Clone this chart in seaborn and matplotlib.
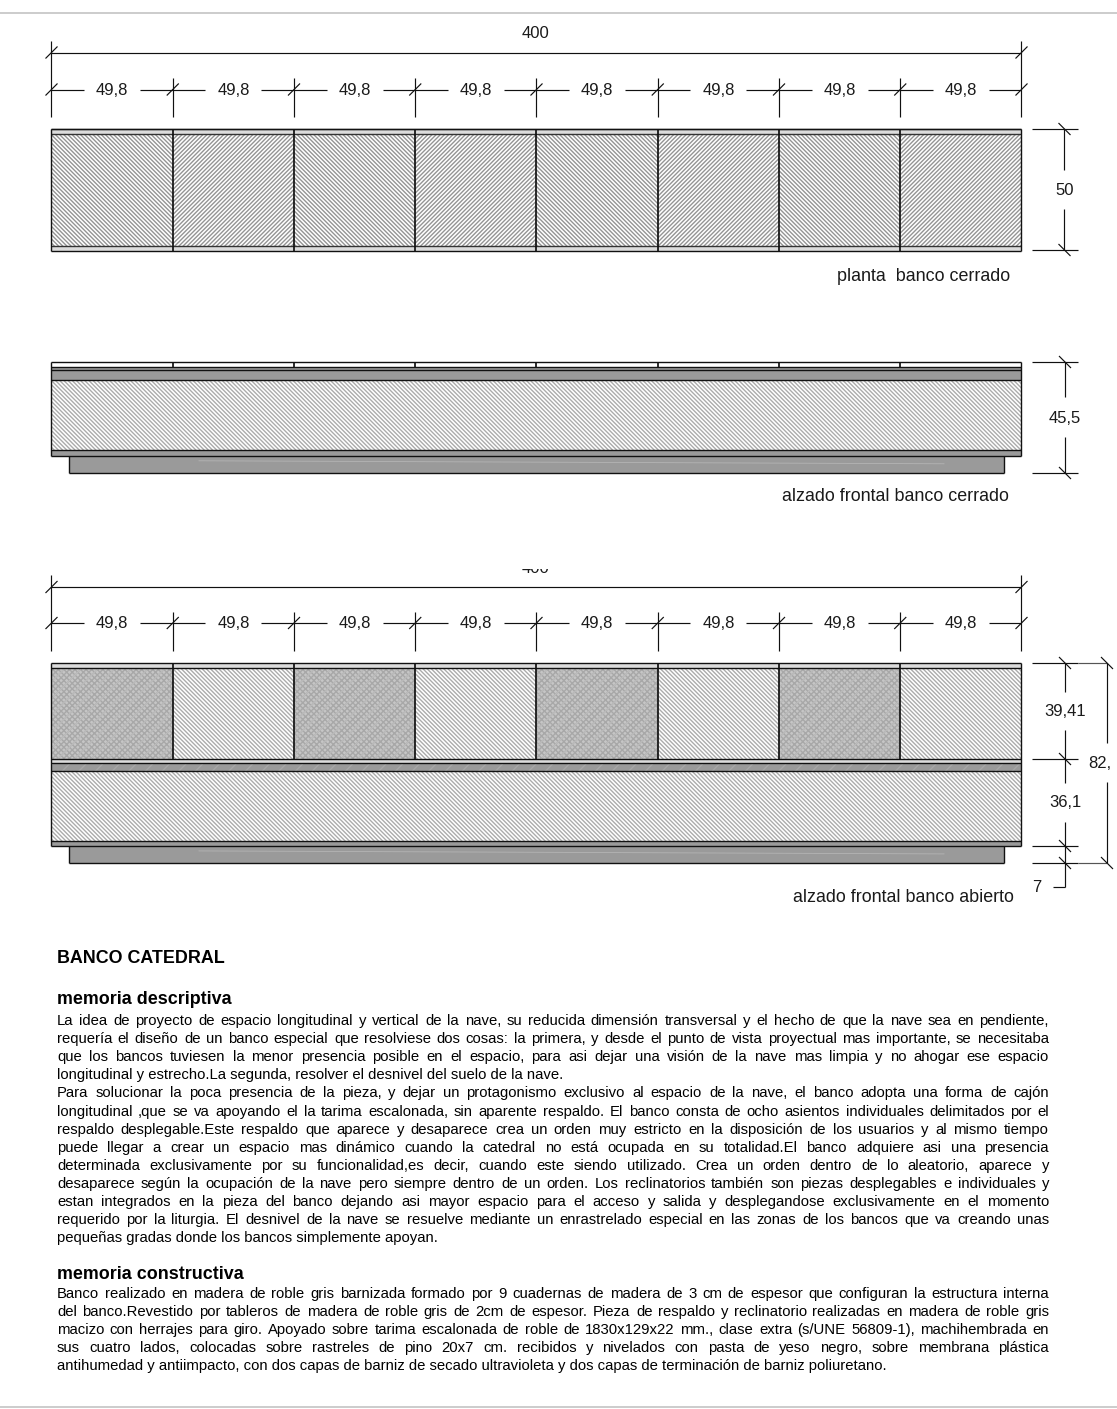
"""Banco catedral: plan, two elevations and the project notes, drawn to scale."""

import matplotlib
matplotlib.use('Agg')
import matplotlib.pyplot as plt
from matplotlib.patches import Rectangle
import numpy as np
import seaborn as sns

# ---- drawing dimensions, all in cm as written on the sheet
seat_widths = [49.8, 49.8, 49.8, 49.8, 49.8, 49.8, 49.8, 49.8]
seat_labels = ['49,8', '49,8', '49,8', '49,8', '49,8', '49,8', '49,8', '49,8']
total_label = '400'
plinth_inset = 7.0

plan_kinds = ['strip', 'seat', 'strip']
plan_depths = [2.0, 46.0, 2.0]
closed_kinds = ['blank', 'band', 'band', 'body', 'band', 'plinth']
closed_depths = [2.2, 1.2, 4.0, 28.7, 2.4, 7.0]
open_kinds = ['strip', 'seat', 'strip', 'streaked', 'body', 'band', 'plinth']
open_depths = [2.0, 37.41, 1.6, 3.3, 28.7, 2.1, 7.0]

# ---- text
title = 'BANCO CATEDRAL'
heading_1 = 'memoria descriptiva'
heading_2 = 'memoria constructiva'
body_1 = [
    'La idea de proyecto de espacio longitudinal y vertical de la nave, su reducida dimensión transversal y el hecho de que la nave sea en pendiente,',
    'requería el diseño de un banco especial que resolviese dos cosas: la primera, y desde el punto de vista proyectual mas importante, se necesitaba',
    'que los bancos tuviesen la menor presencia posible en el espacio, para asi dejar una visión de la nave mas limpia y no ahogar ese  espacio',
    'longitudinal y estrecho.La segunda, resolver el desnivel del suelo de la nave.',
    'Para solucionar la poca presencia de la pieza, y dejar un protagonismo exclusivo al espacio de la nave, el banco adopta una forma de cajón',
    'longitudinal ,que se va apoyando el la tarima escalonada, sin aparente respaldo. El banco consta de ocho asientos individuales delimitados por el',
    'respaldo desplegable.Este respaldo que aparece y desaparece crea un orden muy estricto en la disposición de los usuarios y al mismo tiempo',
    'puede llegar a crear un espacio mas dinámico cuando la catedral no está ocupada en su totalidad.El banco adquiere asi una presencia',
    'determinada exclusivamente por su funcionalidad,es decir, cuando este siendo utilizado. Crea un orden dentro de lo aleatorio, aparece y',
    'desaparece según la ocupación de la nave pero siempre dentro de un orden. Los reclinatorios también son piezas desplegables e individuales y',
    'estan integrados en la pieza del banco dejando asi mayor espacio para el acceso y salida y desplegandose exclusivamente en el momento',
    'requerido por la liturgia. El desnivel de la nave se resuelve mediante un enrastrelado especial en las zonas de los bancos que va creando unas',
    'pequeñas gradas donde los bancos simplemente apoyan.',
]
body_1_ragged = [3, 12]
body_2 = [
    'Banco realizado en madera de roble gris barnizada formado por 9 cuadernas de madera de 3 cm de espesor que configuran la estructura interna',
    'del banco.Revestido por tableros de madera de roble gris de 2cm de espesor. Pieza de respaldo y reclinatorio realizadas en madera de roble gris',
    'macizo con herrajes para giro. Apoyado sobre tarima escalonada de roble de 1830x129x22 mm., clase extra (s/UNE 56809-1), machihembrada en',
    'sus cuatro lados, colocadas sobre rastreles de pino 20x7 cm. recibidos y nivelados con pasta de yeso negro, sobre membrana plástica',
    'antihumedad y antiimpacto, con dos capas de barniz de secado ultravioleta y dos capas de terminación de barniz poliuretano.',
]
body_2_ragged = [4]

# ---- sheet layout
W, H = 1117, 1409
SCALE = 970 / sum(seat_widths)   # pixels per cm
X0 = 51.5                        # left edge of the bench on the sheet
FONT = ['Liberation Sans', 'DejaVu Sans']
INK = '#111111'

LAYER_STYLE = {
    'strip': dict(color='#dcdcdc', edgecolor='#dcdcdc'),
    'blank': dict(color='#ffffff', edgecolor='#ffffff'),
    'band': dict(color='#9a9a9a', edgecolor='#9a9a9a'),
    'streaked': dict(color='#9a9a9a', edgecolor='#a8a8a8', hatch='//'),
    'plinth': dict(color='#9a9a9a', edgecolor='#9a9a9a'),
    'body': dict(color='#ffffff', edgecolor='#ababab', hatch='\\' * 8),
}
SEAT_BACK = dict(color='#ffffff', edgecolor='#949494')
SEAT_DARK = dict(color='#c6c6c6', edgecolor='#a8a8a8', hatch='x' * 6)
SEAT_STREAK = dict(color='#bcbcbc', fill=False, hatch='//')
SEAT_LIGHT = dict(color='#ffffff', edgecolor='#ababab', hatch='\\' * 8)

sns.set_theme(style='white', rc={'hatch.linewidth': 1.0})
plt.rcParams['font.family'] = FONT

fig = plt.figure(figsize=(W / 100, H / 100), dpi=100, facecolor='white')
ax = fig.add_axes([0, 0, 1, 1])


def cx(px):
    return (px - X0) / SCALE


def cy(px):
    return px / SCALE


def seg(x0, y0, x1, y1, lw=0.85, color=INK):
    # every line of the drawing goes through here, args in sheet pixels
    ax.plot([cx(x0), cx(x1)], [cy(y0), cy(y1)], color=color, lw=lw,
            solid_capstyle='butt', zorder=5)


def label(x, y, text, ha='center', size=12.0, color='#1a1a1a', **kw):
    return ax.text(cx(x), cy(y), text, ha=ha, va='baseline', fontsize=size,
                   color=color, zorder=6, **kw)


def bar(x_left, width, top, depth, style):
    sns.barplot(x=[x_left + width / 2], y=[depth], bottom=top, width=width,
                native_scale=True, errorbar=None, saturation=1, linewidth=0,
                ax=ax, **style)


def draw_view(top_px, kinds, depths, seat_styles):
    edges = np.concatenate([[0], np.cumsum(seat_widths)])
    total = edges[-1]
    y = cy(top_px)
    right_px = X0 + total * SCALE
    layer_tops = []
    for kind, depth in zip(kinds, depths):
        layer_tops.append(y)
        if kind == 'seat':
            for i, w in enumerate(seat_widths):
                bar(edges[i], w, y, depth, seat_styles[i % 2])
                if seat_styles[i % 2] is SEAT_DARK:
                    bar(edges[i], w, y, depth, SEAT_STREAK)
        elif kind == 'plinth':
            bar(plinth_inset, total - 2 * plinth_inset, y, depth, LAYER_STYLE[kind])
        else:
            bar(0, total, y, depth, LAYER_STYLE[kind])
        y += depth
    layer_tops.append(y)

    # outlines of each layer
    for i, kind in enumerate(kinds):
        ypx = layer_tops[i] * SCALE
        if kind == 'plinth':
            x0 = X0 + plinth_inset * SCALE
            x1 = right_px - plinth_inset * SCALE
            ybot = layer_tops[i + 1] * SCALE
            seg(x0, ypx, x0, ybot, 1.0)
            seg(x1, ypx, x1, ybot, 1.0)
            seg(x0, ybot, x1, ybot, 1.0)
            seg(x0 + 130, ybot - 12, x1 - 60, ybot - 9, 0.6, '#b4b4b4')
        seg(X0, ypx, right_px, ypx, 1.0)
    last = kinds.index('plinth')
    ybot = layer_tops[last] * SCALE
    seg(X0, top_px, X0, ybot, 1.0)
    seg(right_px, top_px, right_px, ybot, 1.0)

    # seat divisions
    if 'seat' in kinds:
        i = kinds.index('seat')
        y0, y1 = layer_tops[i] * SCALE - 4.5, layer_tops[i + 1] * SCALE
    else:
        y0, y1 = top_px, top_px + 5
    for e in edges[1:-1]:
        seg(X0 + e * SCALE, y0, X0 + e * SCALE, y1, 1.25)


def draw_plan(top_px, kinds, depths, seat_styles):
    edges = np.concatenate([[0], np.cumsum(seat_widths)])
    total = edges[-1]
    right_px = X0 + total * SCALE
    y = cy(top_px)
    for kind, depth in zip(kinds, depths):
        ypx = y * SCALE
        if kind == 'seat':
            for i, w in enumerate(seat_widths):
                bar(edges[i], w, y, depth, seat_styles[i % 2])
        else:
            bar(0, total, y, depth, LAYER_STYLE[kind])
        seg(X0, ypx, right_px, ypx, 1.0, '#333333')
        y += depth
    ybot = y * SCALE
    seg(X0, ybot, right_px, ybot, 1.0)
    seg(X0, top_px, right_px, top_px, 1.0)
    seg(X0, top_px, X0, ybot, 1.0)
    seg(right_px, top_px, right_px, ybot, 1.0)
    for e in edges[1:-1]:
        seg(X0 + e * SCALE, top_px, X0 + e * SCALE, ybot, 1.25)


def tick_up(x, y):
    seg(x - 6, y + 6, x + 6, y - 6, 0.85)


def tick_down(x, y):
    seg(x - 6, y - 6, x + 6, y + 6, 0.85)


def top_dims(y_total, y_row, y_start, y_row_top, y_end):
    edges = np.concatenate([[0], np.cumsum(seat_widths)])
    right_px = X0 + edges[-1] * SCALE
    seg(X0, y_total, right_px, y_total)
    tick_up(X0, y_total)
    tick_up(right_px, y_total)
    for x in (X0, right_px):
        seg(x, y_start, x, y_end)
    for i, e in enumerate(edges):
        xp = X0 + e * SCALE
        tick_up(xp, y_row)
        if 0 < i < len(edges) - 1:
            seg(xp, y_row_top, xp, y_end)
        if i < len(seat_labels):
            xn = X0 + edges[i + 1] * SCALE
            mid = (xp + xn) / 2
            seg(xp, y_row, mid - 28, y_row)
            seg(mid + 28, y_row, xn, y_row)
            label(mid, y_row + 5.5, seat_labels[i])


def side_dim(x, y0, y1, text):
    seg(1032, y0, 1078, y0)
    seg(1032, y1, 1078, y1)
    tick_down(x, y0)
    tick_down(x, y1)
    mid = (y0 + y1) / 2
    seg(x, y0, x, mid - 20)
    seg(x, mid + 19, x, y1)
    label(x, mid + 5.5, text)


# ---- the three views
draw_plan(129, plan_kinds, plan_depths, [SEAT_BACK | dict(hatch='\\' * 8), SEAT_BACK | dict(hatch='/' * 8)])
draw_view(362, closed_kinds, closed_depths, [SEAT_LIGHT, SEAT_LIGHT])
draw_view(663, open_kinds, open_depths, [SEAT_DARK, SEAT_LIGHT])

# ---- dimensions over the plan and over the open elevation
top_dims(52.5, 89.5, 41, 78, 117)
label(536, 38.5, total_label)
top_dims(587, 623, 575, 612, 651)
t = label(536, 573, total_label)
t.set_clip_on(True)
t.set_clip_path(Rectangle((0, 0), W, H - 569, transform=None))

# ---- dimensions on the right
side_dim(1064.5, 129, 250, '50')
side_dim(1065, 362, 473, '45,5')

for y in (663, 759, 846, 863):
    seg(1032, y, 1078, y)
    tick_down(1065, y)
seg(1078, 663, 1107, 663, 0.85, '#555555')
seg(1078, 863, 1107, 863, 0.85, '#555555')
tick_down(1107, 663)
tick_down(1107, 863)
seg(1065, 663, 1065, 692)
seg(1065, 730, 1065, 783)
seg(1065, 822, 1065, 887)
seg(1053, 887, 1065, 887)
seg(1107, 663, 1107, 743)
seg(1107, 782, 1107, 863)
label(1065, 716, '39,41')
label(1065, 807, '36,1')
label(1100, 768, '82,')
label(1037, 892, '7')

# ---- captions
label(1010, 281, 'planta  banco cerrado', ha='right', size=12.9)
label(1009, 501, 'alzado frontal banco cerrado', ha='right', size=12.9)
label(1014, 902, 'alzado frontal banco abierto', ha='right', size=12.9)

# ---- notes
label(57, 963, title, ha='left', size=12.9, color='#000000', fontweight='bold')
label(57, 1004, heading_1, ha='left', size=12.9, color='#000000', fontweight='bold')
label(57, 1279, heading_2, ha='left', size=12.9, color='#000000', fontweight='bold')

renderer = fig.canvas.get_renderer()
LEFT, RIGHT = 57, 1049
LINE_STEP = 18.1
BODY_SIZE = 10.75


def justify(lines, first_baseline, ragged):
    # word by word so both edges of the paragraph line up
    for n, line in enumerate(lines):
        # whole pixel baselines, otherwise words jitter up and down
        base = round(first_baseline + n * LINE_STEP)
        if n in ragged:
            label(LEFT, base, line, ha='left', size=BODY_SIZE, color='#000000')
            continue
        words = line.split()
        marks = [label(LEFT, base, w, ha='left', size=BODY_SIZE, color='#000000') for w in words]
        widths = [m.get_window_extent(renderer).width for m in marks]
        gap = (RIGHT - LEFT - sum(widths)) / (len(words) - 1)
        x = LEFT
        for m, w in zip(marks, widths):
            m.set_x(cx(x))
            x += w + gap


justify(body_1, 1025, body_1_ragged)
justify(body_2, 1297.5, body_2_ragged)

# ---- sheet rules
seg(0, 12.5, W, 12.5, 1.2, '#c4c4c4')
seg(0, 1407, W, 1407, 1.2, '#c4c4c4')

ax.set_xlim(cx(0), cx(W))
ax.set_ylim(cy(H), cy(0))
ax.set_axis_off()

fig.savefig('out.png', dpi=100, facecolor='white')
plt.close(fig)
